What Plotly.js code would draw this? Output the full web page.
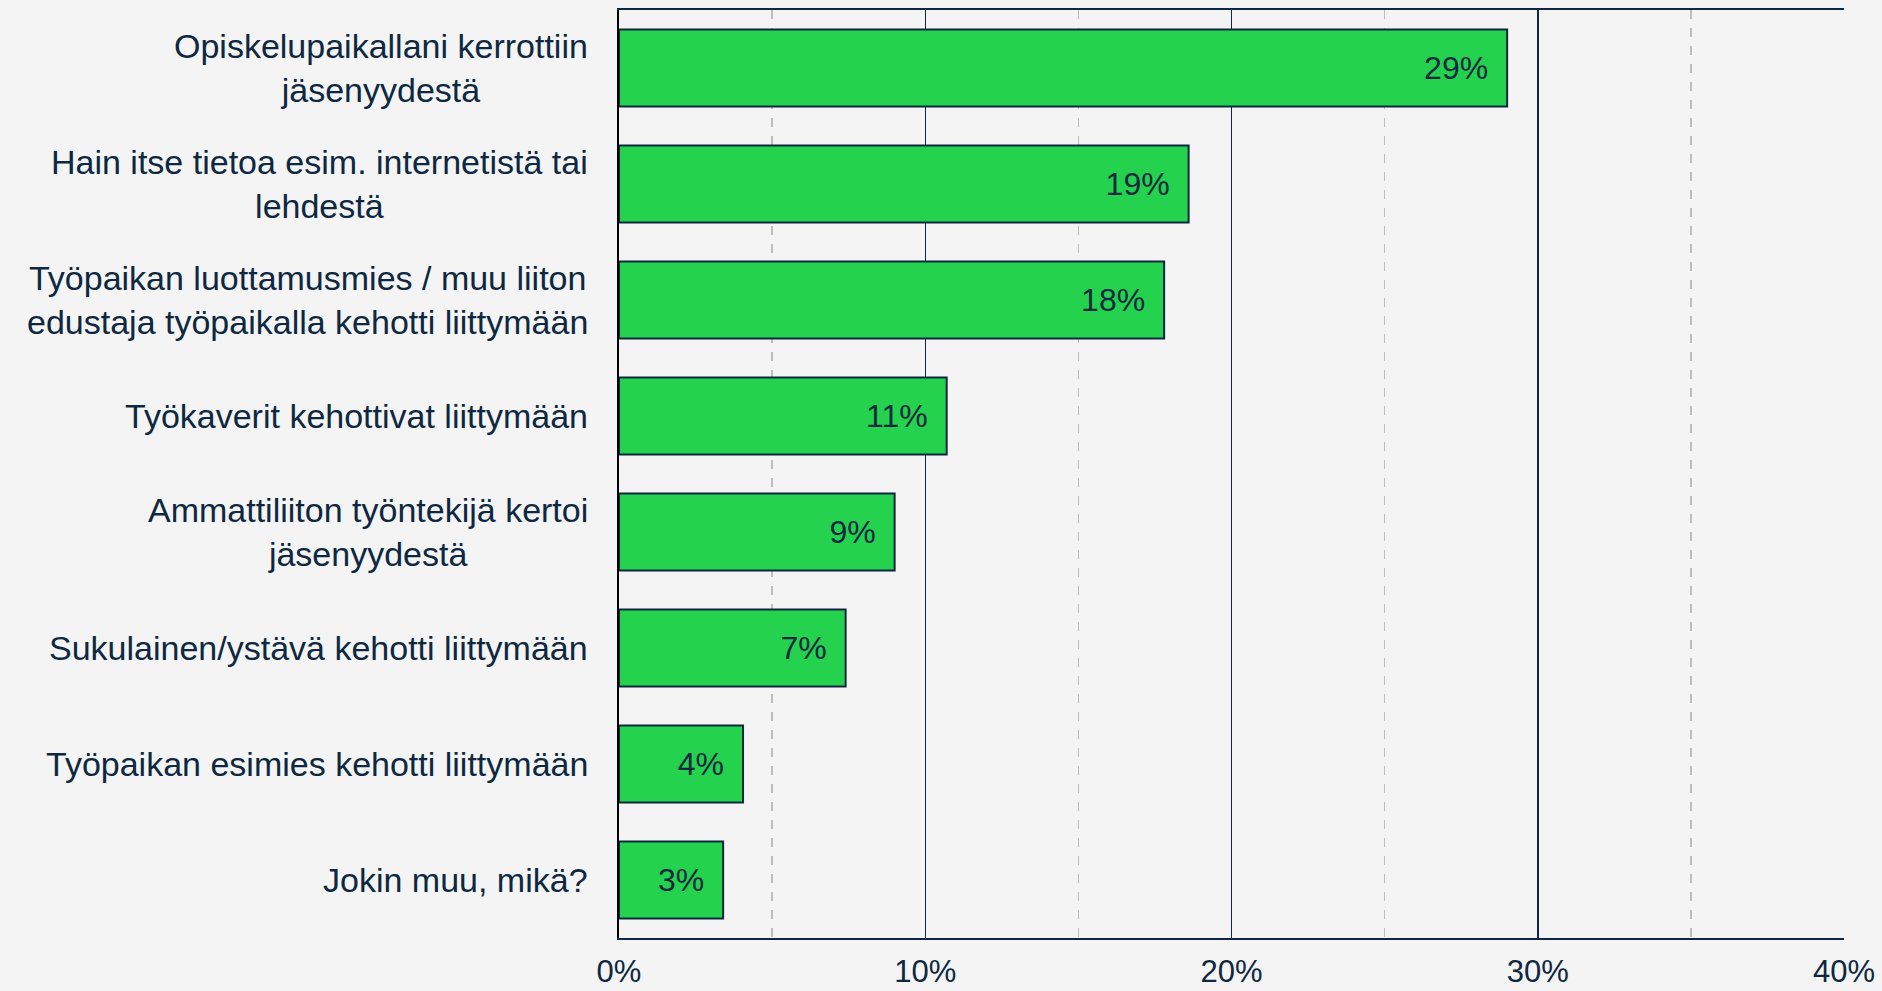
<!DOCTYPE html>
<html>
<head>
<meta charset="utf-8">
<script src="https://cdn.plot.ly/plotly-3.0.1.min.js"></script>
<style>
  html, body { margin: 0; padding: 0; background: #f4f4f4; }
  #chart { width: 1882px; height: 991px; }
</style>
</head>
<body>
<div id="chart"></div>
<script>
// Categories (top to bottom)
const categories = [
  "Opiskelupaikallani kerrottiin<br>jäsenyydestä",
  "Hain itse tietoa esim. internetistä tai<br>lehdestä",
  "Työpaikan luottamusmies / muu liiton<br>edustaja työpaikalla kehotti liittymään",
  "Työkaverit kehottivat liittymään",
  "Ammattiliiton työntekijä kertoi<br>jäsenyydestä",
  "Sukulainen/ystävä kehotti liittymään",
  "Työpaikan esimies kehotti liittymään",
  "Jokin muu, mikä?"
];
// Shares in percent
const values = [29.0, 18.6, 17.8, 10.7, 9.0, 7.4, 4.05, 3.4];
// Axis ticks
const tickValues = [0, 10, 20, 30, 40];
const tickLabels = ["0%", "10%", "20%", "30%", "40%"];

const navy = "#0e2841";
const textFont = "Liberation Sans, Arial, sans-serif";

const trace = {
  type: "bar",
  orientation: "h",
  y: categories,
  x: values,
  marker: { color: "#24d24e", line: { color: navy, width: 2 } },
  texttemplate: "%{x:.0f}%\u2002",
  textposition: "inside",
  insidetextanchor: "end",
  textangle: 0,
  constraintext: "none",
  insidetextfont: { family: textFont, size: 32, color: navy },
  hoverinfo: "none",
  cliponaxis: false
};

// Category labels: block right-aligned to the axis, lines centred on each other
const labelAnnotations = categories.map(c => ({
  xref: "paper",
  yref: "y",
  x: 0,
  y: c,
  xanchor: "right",
  yanchor: "middle",
  align: "center",
  xshift: -29,
  showarrow: false,
  text: c,
  font: { family: textFont, size: 34, color: navy }
}));

const layout = {
  width: 1882,
  height: 991,
  paper_bgcolor: "#f4f4f4",
  plot_bgcolor: "#f4f4f4",
  margin: { l: 619, r: 38, t: 10, b: 53 },
  bargap: 0.336,
  showlegend: false,
  font: { family: textFont, color: navy },
  annotations: labelAnnotations,
  xaxis: {
    range: [0, 40],
    tickvals: tickValues,
    ticktext: tickLabels,
    tickfont: { family: textFont, size: 31, color: navy },
    ticks: "",
    ticklabelstandoff: 5,
    showgrid: true,
    gridcolor: navy,
    gridwidth: 1.5,
    zeroline: false,
    showline: true,
    linecolor: navy,
    linewidth: 2,
    mirror: true,
    minor: {
      dtick: 5,
      tick0: 0,
      showgrid: true,
      gridcolor: "#bdbdbd",
      gridwidth: 1.5,
      griddash: "dash",
      ticks: ""
    },
    fixedrange: true
  },
  yaxis: {
    autorange: "reversed",
    showticklabels: false,
    ticks: "",
    showline: true,
    linecolor: "#000000",
    linewidth: 2,
    mirror: false,
    showgrid: false,
    fixedrange: true
  }
};

Plotly.newPlot("chart", [trace], layout, { displayModeBar: false, staticPlot: true });
</script>
</body>
</html>
